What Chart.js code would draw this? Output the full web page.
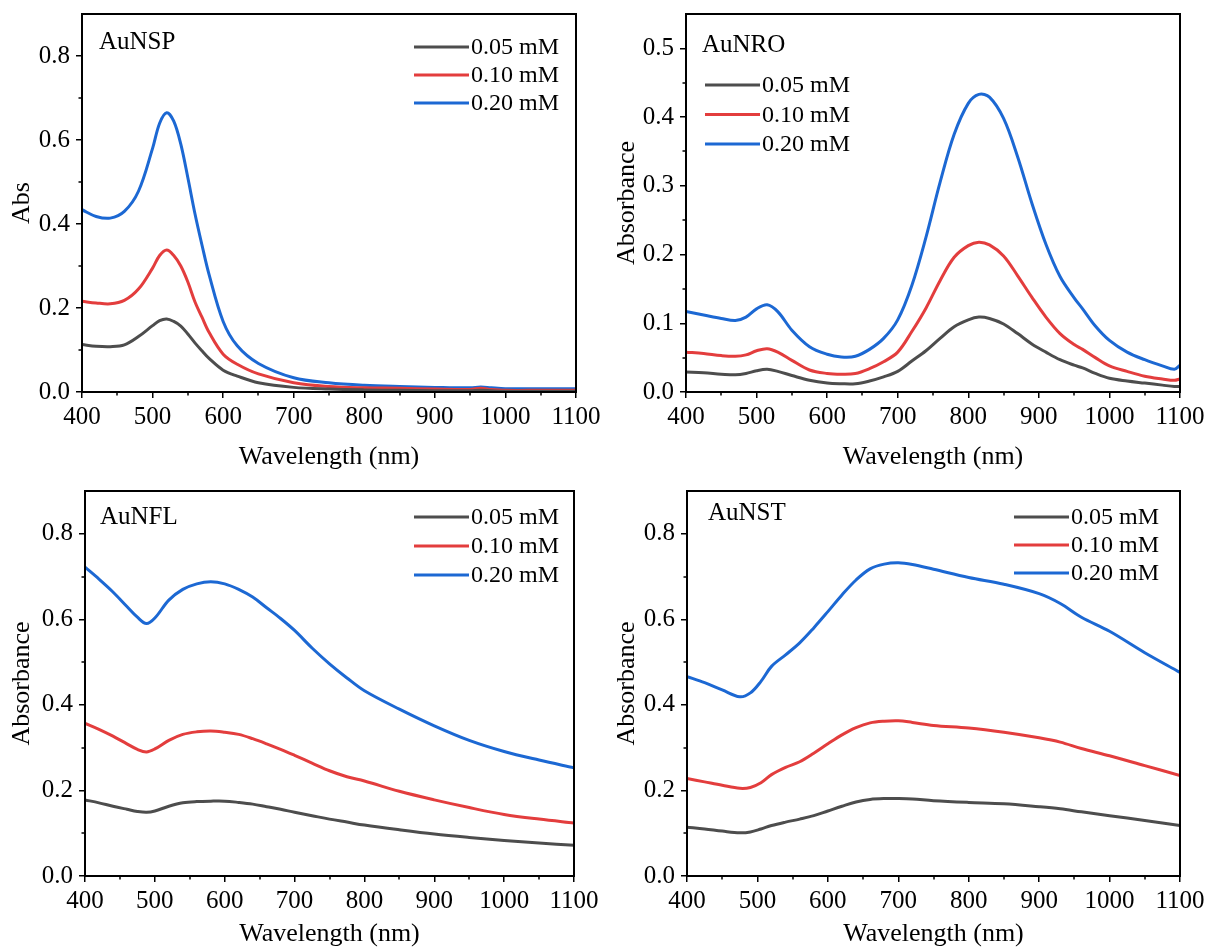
<!DOCTYPE html>
<html lang="en">
<head>
    <meta charset="UTF-8">
    <title>Au nanoparticle absorbance spectra</title>
    <script src="https://cdn.jsdelivr.net/npm/chart.js@4.4.1/dist/chart.umd.min.js"></script>
    <style>
        body {
            margin: 0;
            background: #ffffff;
        }
        .panel {
            position: absolute;
        }
    </style>
</head>
<body>
    <div class="panel" style="left:0;top:0"><canvas id="nspChart" width="605" height="473"></canvas></div>
    <div class="panel" style="left:605px;top:0"><canvas id="nroChart" width="606" height="473"></canvas></div>
    <div class="panel" style="left:0;top:473px"><canvas id="nflChart" width="605" height="474"></canvas></div>
    <div class="panel" style="left:605px;top:473px"><canvas id="nstChart" width="606" height="474"></canvas></div>

    <script>
        // series labels and colours
        const seriesLabels = ['0.05 mM', '0.10 mM', '0.20 mM'];
        const seriesColors = ['#4d4d4d', '#e33d3d', '#1c68d3'];

        // AuNSP (spheres)
        const nspWavelength = [400, 420, 440, 460, 480, 500, 510, 520, 530, 540, 550, 560, 570, 580, 600, 620, 650, 700, 750, 800, 850, 900, 950, 965, 980, 1000, 1050, 1100];
        const nsp005 = [0.113, 0.109, 0.108, 0.112, 0.132, 0.158, 0.170, 0.174, 0.168, 0.157, 0.138, 0.117, 0.098, 0.080, 0.052, 0.038, 0.022, 0.011, 0.007, 0.005, 0.004, 0.003, 0.003, 0.004, 0.003, 0.002, 0.002, 0.002];
        const nsp010 = [0.216, 0.212, 0.210, 0.218, 0.245, 0.295, 0.325, 0.338, 0.325, 0.300, 0.262, 0.215, 0.178, 0.142, 0.090, 0.066, 0.043, 0.022, 0.013, 0.010, 0.009, 0.007, 0.006, 0.009, 0.006, 0.004, 0.004, 0.004];
        const nsp020 = [0.434, 0.418, 0.414, 0.430, 0.478, 0.580, 0.640, 0.665, 0.645, 0.590, 0.510, 0.425, 0.350, 0.280, 0.168, 0.110, 0.068, 0.034, 0.022, 0.016, 0.013, 0.011, 0.010, 0.012, 0.010, 0.008, 0.008, 0.008];

        // AuNRO (rods)
        const nroWavelength = [400, 425, 450, 470, 485, 500, 515, 530, 550, 575, 600, 620, 640, 660, 680, 700, 720, 740, 760, 780, 800, 815, 830, 850, 870, 890, 910, 930, 950, 962, 980, 1000, 1025, 1050, 1075, 1092, 1100];
        const nro005 = [0.029, 0.028, 0.026, 0.025, 0.027, 0.031, 0.033, 0.030, 0.024, 0.017, 0.013, 0.012, 0.012, 0.016, 0.022, 0.030, 0.045, 0.060, 0.078, 0.095, 0.105, 0.109, 0.107, 0.099, 0.085, 0.070, 0.058, 0.047, 0.039, 0.035, 0.027, 0.020, 0.016, 0.013, 0.010, 0.008, 0.008];
        const nro010 = [0.058, 0.056, 0.053, 0.052, 0.054, 0.060, 0.063, 0.058, 0.046, 0.032, 0.027, 0.026, 0.027, 0.034, 0.044, 0.058, 0.088, 0.122, 0.162, 0.196, 0.213, 0.218, 0.214, 0.198, 0.169, 0.138, 0.109, 0.085, 0.069, 0.062, 0.050, 0.038, 0.030, 0.023, 0.019, 0.017, 0.019];
        const nro020 = [0.117, 0.112, 0.107, 0.104, 0.109, 0.121, 0.127, 0.117, 0.090, 0.066, 0.055, 0.051, 0.052, 0.062, 0.078, 0.105, 0.155, 0.225, 0.305, 0.375, 0.420, 0.433, 0.429, 0.398, 0.342, 0.275, 0.215, 0.168, 0.137, 0.121, 0.096, 0.075, 0.058, 0.047, 0.038, 0.033, 0.039];

        // AuNFL (flowers)
        const nflWavelength = [400, 420, 440, 460, 475, 488, 500, 520, 540, 560, 580, 600, 620, 640, 660, 680, 700, 725, 750, 775, 800, 850, 900, 950, 1000, 1050, 1100];
        const nfl005 = [0.178, 0.171, 0.163, 0.156, 0.151, 0.149, 0.152, 0.163, 0.171, 0.174, 0.175, 0.175, 0.172, 0.168, 0.162, 0.156, 0.149, 0.141, 0.133, 0.126, 0.119, 0.108, 0.098, 0.090, 0.083, 0.077, 0.072];
        const nfl010 = [0.357, 0.343, 0.327, 0.309, 0.296, 0.290, 0.297, 0.317, 0.331, 0.337, 0.339, 0.336, 0.331, 0.321, 0.309, 0.296, 0.282, 0.264, 0.246, 0.232, 0.222, 0.198, 0.178, 0.160, 0.144, 0.133, 0.124];
        const nfl020 = [0.722, 0.694, 0.664, 0.630, 0.605, 0.590, 0.603, 0.645, 0.670, 0.683, 0.688, 0.683, 0.670, 0.652, 0.627, 0.602, 0.574, 0.533, 0.496, 0.463, 0.433, 0.390, 0.351, 0.317, 0.291, 0.271, 0.253];

        // AuNST (stars)
        const nstWavelength = [400, 425, 450, 475, 490, 505, 520, 540, 560, 580, 600, 620, 640, 660, 680, 700, 720, 750, 800, 850, 900, 930, 960, 1000, 1050, 1100];
        const nst005 = [0.114, 0.110, 0.105, 0.101, 0.103, 0.110, 0.118, 0.126, 0.133, 0.141, 0.152, 0.163, 0.173, 0.179, 0.181, 0.181, 0.180, 0.176, 0.172, 0.169, 0.162, 0.157, 0.150, 0.141, 0.130, 0.118];
        const nst010 = [0.228, 0.220, 0.212, 0.205, 0.207, 0.218, 0.237, 0.254, 0.267, 0.287, 0.309, 0.330, 0.347, 0.358, 0.362, 0.363, 0.359, 0.352, 0.346, 0.336, 0.323, 0.313, 0.298, 0.281, 0.258, 0.235];
        const nst020 = [0.466, 0.452, 0.435, 0.419, 0.428, 0.455, 0.490, 0.517, 0.545, 0.580, 0.618, 0.657, 0.692, 0.718, 0.729, 0.732, 0.728, 0.717, 0.698, 0.682, 0.660, 0.637, 0.605, 0.572, 0.522, 0.476];

        const serif = '"Liberation Serif", "Times New Roman", serif';

        // frame, minor ticks, panel label and legend
        const decorPlugin = {
            id: 'decor',
            afterDraw(chart, args, opts) {
                const ctx = chart.ctx;
                const a = chart.chartArea;
                const x = chart.scales.x;
                const y = chart.scales.y;
                ctx.save();
                ctx.strokeStyle = '#000';
                ctx.lineWidth = 1.5;
                ctx.beginPath();
                for (let v = 450; v < 1100; v += 100) {
                    const px = Math.round(x.getPixelForValue(v));
                    ctx.moveTo(px, a.bottom);
                    ctx.lineTo(px, a.bottom + 3.5);
                }
                for (let v = opts.minorStep; v < y.max - 1e-6; v += 2 * opts.minorStep) {
                    const py = Math.round(y.getPixelForValue(v));
                    ctx.moveTo(a.left, py);
                    ctx.lineTo(a.left - 3.5, py);
                }
                ctx.stroke();

                ctx.lineWidth = 2;
                ctx.strokeRect(a.left, a.top, a.right - a.left, a.bottom - a.top);

                ctx.fillStyle = '#000';
                ctx.textBaseline = 'middle';
                ctx.textAlign = 'left';
                ctx.font = '25px ' + serif;
                ctx.fillText(opts.label, a.left + opts.labelX, a.top + opts.labelY);

                const lx = opts.legendFromRight ? a.right - opts.legendX : a.left + opts.legendX;
                ctx.font = '24px ' + serif;
                chart.data.datasets.forEach((ds, i) => {
                    const ly = a.top + opts.legendY + i * opts.legendGap;
                    ctx.strokeStyle = ds.borderColor;
                    ctx.lineWidth = 3;
                    ctx.beginPath();
                    ctx.moveTo(lx, ly);
                    ctx.lineTo(lx + 55, ly);
                    ctx.stroke();
                    ctx.fillText(ds.label, lx + 57, ly + 1);
                });
                ctx.restore();
            }
        };

        function createSpectrumChart(canvasId, wavelength, series, cfg) {
            const ctx = document.getElementById(canvasId).getContext('2d');
            const h = ctx.canvas.height;
            return new Chart(ctx, {
                type: 'line',
                data: {
                    datasets: series.map((values, i) => ({
                        label: seriesLabels[i],
                        data: wavelength.map((w, j) => ({ x: w, y: values[j] })),
                        borderColor: seriesColors[i],
                        borderWidth: 3,
                        pointRadius: 0,
                        tension: 0.35,
                        fill: false
                    }))
                },
                options: {
                    responsive: false,
                    animation: false,
                    layout: {
                        padding: { top: cfg.top, right: cfg.right, left: 0, bottom: 0 }
                    },
                    plugins: {
                        legend: { display: false },
                        tooltip: { enabled: false },
                        decor: cfg.decor
                    },
                    scales: {
                        x: {
                            type: 'linear',
                            min: 400,
                            max: 1100,
                            afterFit(scale) {
                                scale.height = h - cfg.bottom;
                                scale.paddingLeft = 0;
                                scale.paddingRight = 0;
                            },
                            border: { color: '#000', width: 2 },
                            grid: { drawOnChartArea: false, color: '#000', lineWidth: 1.5, tickLength: 6 },
                            ticks: {
                                stepSize: 100,
                                autoSkip: false,
                                maxRotation: 0,
                                padding: 7,
                                color: '#000',
                                font: { family: serif, size: 25, lineHeight: 1 },
                                callback: v => String(v)
                            },
                            title: {
                                display: true,
                                text: 'Wavelength (nm)',
                                color: '#000',
                                font: { family: serif, size: 26, lineHeight: 1 },
                                padding: { top: 0, bottom: cfg.titleBottom }
                            }
                        },
                        y: {
                            min: 0,
                            max: cfg.yMax,
                            afterFit(scale) {
                                scale.width = cfg.left;
                                scale.paddingTop = 0;
                                scale.paddingBottom = 0;
                            },
                            border: { color: '#000', width: 2 },
                            grid: { drawOnChartArea: false, color: '#000', lineWidth: 1.5, tickLength: 6 },
                            ticks: {
                                stepSize: cfg.yStep,
                                includeBounds: false,
                                padding: 6,
                                color: '#000',
                                font: { family: serif, size: 25, lineHeight: 1 },
                                callback: v => v.toFixed(1)
                            },
                            title: {
                                display: true,
                                text: cfg.yTitle,
                                color: '#000',
                                font: { family: serif, size: 26, lineHeight: 1.2 },
                                padding: { top: 7, bottom: 0 }
                            }
                        }
                    }
                },
                plugins: [decorPlugin]
            });
        }

        createSpectrumChart('nspChart', nspWavelength, [nsp005, nsp010, nsp020], {
            left: 82, right: 29, top: 14, bottom: 392, titleBottom: 2.5,
            yMax: 0.9, yStep: 0.2, yTitle: 'Abs',
            decor: { minorStep: 0.1, label: 'AuNSP', labelX: 17, labelY: 28,
                     legendFromRight: true, legendX: 162, legendY: 33, legendGap: 28 }
        });

        createSpectrumChart('nroChart', nroWavelength, [nro005, nro010, nro020], {
            left: 81, right: 31, top: 14, bottom: 392, titleBottom: 2.5,
            yMax: 0.55, yStep: 0.1, yTitle: 'Absorbance',
            decor: { minorStep: 0.05, label: 'AuNRO', labelX: 16, labelY: 31,
                     legendFromRight: false, legendX: 19, legendY: 71, legendGap: 29.5 }
        });

        createSpectrumChart('nflChart', nflWavelength, [nfl005, nfl010, nfl020], {
            left: 85, right: 31, top: 18, bottom: 403, titleBottom: 0,
            yMax: 0.9, yStep: 0.2, yTitle: 'Absorbance',
            decor: { minorStep: 0.1, label: 'AuNFL', labelX: 15, labelY: 26,
                     legendFromRight: true, legendX: 160, legendY: 26, legendGap: 29 }
        });

        createSpectrumChart('nstChart', nstWavelength, [nst005, nst010, nst020], {
            left: 82, right: 31, top: 18, bottom: 403, titleBottom: 0,
            yMax: 0.9, yStep: 0.2, yTitle: 'Absorbance',
            decor: { minorStep: 0.1, label: 'AuNST', labelX: 21, labelY: 22,
                     legendFromRight: true, legendX: 166, legendY: 26, legendGap: 28 }
        });
    </script>
</body>
</html>
